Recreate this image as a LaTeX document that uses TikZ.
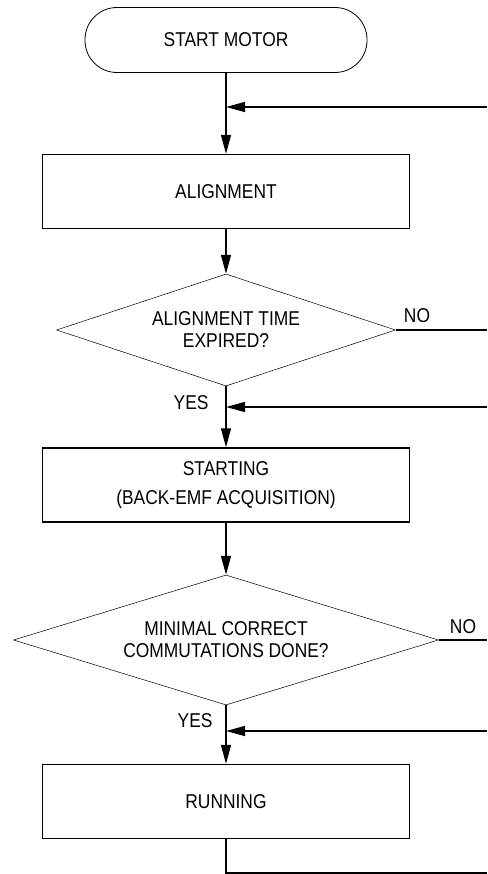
\documentclass[tikz,border=0pt]{standalone}
\usepackage{fontspec}
\setmainfont{Liberation Sans}[FakeStretch=0.87]
\usetikzlibrary{arrows.meta}
\usetikzlibrary{shapes.geometric}

\tikzset{
  terminal/.style={draw, line width=0.8pt, rounded corners=32pt, minimum width=282pt, minimum height=65pt, inner sep=0pt},
  process/.style={draw, line width=1.4pt, minimum width=367pt, minimum height=74pt, inner sep=0pt, align=center},
  decision/.style={draw, diamond, line width=0.5pt, inner sep=0pt},
  flow/.style={line width=1.4pt, -{Triangle[length=19pt, width=10pt]}},
  wire/.style={line width=1.4pt},
}

\begin{document}
\begin{tikzpicture}[x=1pt, y=-1pt, font=\fontsize{20}{22}\selectfont]
  \useasboundingbox (0, 0) rectangle (487, 874);

  \node[terminal] (start) at (226, 40) {START MOTOR};
  \node[process] (align) at (226, 191.5) {ALIGNMENT};
  \node[decision, minimum width=339pt, minimum height=112pt] (qtime) at (226, 330) {};
  \node[align=center] (qtimetext) at (qtime) {ALIGNMENT TIME\\EXPIRED?};
  \node[process] (boot) at (226, 485) {STARTING\\[7pt](BACK-EMF ACQUISITION)};
  \node[decision, minimum width=425pt, minimum height=130pt] (qcomm) at (226, 640) {};
  \node[align=center] (qcommtext) at (qcomm) {MINIMAL CORRECT\\COMMUTATIONS DONE?};
  \node[process] (run) at (226, 801.5) {RUNNING};

  % main flow
  \draw[flow] (start) -- (align);
  \draw[flow] (align) -- (qtime);
  \draw[flow] (qtime) -- (boot);
  \draw[flow] (boot) -- (qcomm);
  \draw[flow] (qcomm) -- (run);

  \node[anchor=east] (yes1) at (212, 403) {YES};
  \node[anchor=east] (yes2) at (216, 721) {YES};

  % NO exits to the right edge
  \coordinate (no1) at (487, 330);
  \coordinate (no2) at (487, 640);
  \draw[wire] (qtime.east) -- (no1);
  \draw[wire] (qcomm.east) -- (no2);
  \node (nolbl1) at (417, 316) {NO};
  \node (nolbl2) at (463, 627) {NO};

  % loop-back entries from the right edge
  \coordinate (back1) at (487, 107);
  \coordinate (back2) at (487, 407);
  \coordinate (back3) at (487, 731);
  \draw[flow] (back1) -- (back1 -| start);
  \draw[flow] (back2) -- (back2 -| qtime);
  \draw[flow] (back3) -- (back3 -| qcomm);

  \coordinate (exit) at (487, 873);
  \draw[wire] (run.south) |- (exit);
\end{tikzpicture}
\end{document}
